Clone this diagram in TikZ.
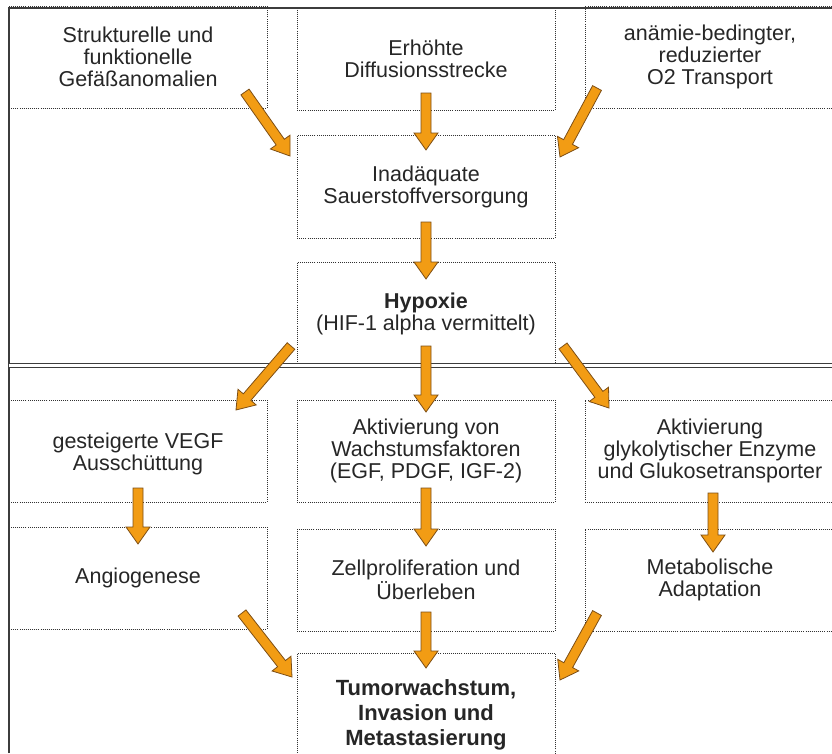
\documentclass[tikz,border=0pt]{standalone}
\usepackage{fontspec}
\setmainfont{Liberation Sans}
\usetikzlibrary{calc}

\definecolor{arrowfill}{RGB}{242,156,20}
\definecolor{arrowedge}{RGB}{125,78,20}
\definecolor{framegray}{RGB}{60,60,60}
\definecolor{dotgray}{RGB}{50,50,50}

% fat orange arrow from #1 to #2
\newcommand{\fatarrow}[2]{%
	\coordinate (h) at ($(#2)!17pt!(#1)$);
	\filldraw[fatarrowstyle] ($(#1)!5pt!90:(#2)$) -- ($(h)!5pt!90:(#2)$) -- ($(h)!12pt!90:(#2)$) -- (#2)
		-- ($(h)!12pt!-90:(#2)$) -- ($(h)!5pt!-90:(#2)$) -- ($(#1)!5pt!-90:(#2)$) -- cycle;}

\begin{document}
\begin{tikzpicture}[x=1pt, y=-1pt,
	box/.style={draw=dotgray, dash pattern=on 1pt off 1.1pt, line width=1pt,
		minimum width=258pt, minimum height=102pt, inner sep=0pt, align=center,
		text=black!85, font=\fontsize{21.5}{22}\selectfont},
	widebox/.style={box, minimum width=250pt},
	fatarrowstyle/.style={fill=arrowfill, draw=arrowedge, line width=0.8pt, solid},
	frame/.style={draw=framegray, line width=1.6pt},
	]

	\useasboundingbox (0,0) rectangle (832,753);

	% top row
	\node[box] (strukt) at (138,57) {Strukturelle und\\funktionelle\\Gefäßanomalien};
	\node[box] (diffus) at (426,59) {Erhöhte\\Diffusionsstrecke};
	\node[widebox] (anaemie) at (710,57) {anämie-bedingter,\\reduzierter\\O2 Transport};

	\node[box, minimum height=103pt] (inad) at (426,186.5) {Inadäquate\\Sauerstoffversorgung};
	\node[box, minimum height=103pt] (hypox) at (426,313.5)
		{{\fontsize{21.5}{23}\selectfont\bfseries Hypoxie}\\(HIF-1 alpha vermittelt)};

	% lower rows
	\node[box] (vegf) at (138,451) {\mbox{}\\gesteigerte VEGF\\Ausschüttung};
	\node[box] (wachst) at (426,451) {Aktivierung von\\Wachstumsfaktoren\\(EGF, PDGF, IGF-2)};
	\node[widebox] (glyko) at (710,451) {Aktivierung\\glykolytischer Enzyme\\und Glukosetransporter};

	\node[box] (angio) at (138,578) {Angiogenese};
	\node[box] (prolif) at (426,580) {Zellproliferation und\\Überleben};
	\node[widebox] (metab) at (710,580) {Metabolische\\Adaptation};

	\node[box, minimum height=124pt, font=\fontsize{22}{25}\selectfont\bfseries] (tumor) at (426,715)
		{Tumorwachstum,\\Invasion und\\Metastasierung};

	% frame
	\draw[frame] (9,753) -- (9,8) -- (832,8);
	\draw[framegray, line width=1.3pt, double=white, double distance=3pt] (9,365.5) -- (832,365.5);

	% arrow ends
	\coordinate (strukt out) at (245,92);
	\coordinate (diffus out) at (426,93);
	\coordinate (anaemie out) at (597,88);
	\coordinate (inad in l) at (290,156);
	\coordinate (inad in) at (426,150);
	\coordinate (inad in r) at (560,157);
	\coordinate (inad out) at (426,222);
	\coordinate (hypox in) at (426,279);
	\coordinate (hypox out l) at (291,346);
	\coordinate (hypox out) at (426,346);
	\coordinate (hypox out r) at (563,346);
	\coordinate (vegf in) at (236,410);
	\coordinate (wachst in) at (426,412);
	\coordinate (glyko in) at (609,408);
	\coordinate (vegf out) at (138,488);
	\coordinate (wachst out) at (426,488);
	\coordinate (glyko out) at (713,493);
	\coordinate (angio in) at (138,544);
	\coordinate (prolif in) at (426,546);
	\coordinate (metab in) at (713,552);
	\coordinate (angio out) at (242,613);
	\coordinate (prolif out) at (426,612);
	\coordinate (metab out) at (597,613);
	\coordinate (tumor in l) at (292,677);
	\coordinate (tumor in) at (426,668);
	\coordinate (tumor in r) at (560,680);

	\fatarrow{strukt out}{inad in l}
	\fatarrow{diffus out}{inad in}
	\fatarrow{anaemie out}{inad in r}
	\fatarrow{inad out}{hypox in}
	\fatarrow{hypox out l}{vegf in}
	\fatarrow{hypox out}{wachst in}
	\fatarrow{hypox out r}{glyko in}
	\fatarrow{vegf out}{angio in}
	\fatarrow{wachst out}{prolif in}
	\fatarrow{glyko out}{metab in}
	\fatarrow{angio out}{tumor in l}
	\fatarrow{prolif out}{tumor in}
	\fatarrow{metab out}{tumor in r}

\end{tikzpicture}
\end{document}
